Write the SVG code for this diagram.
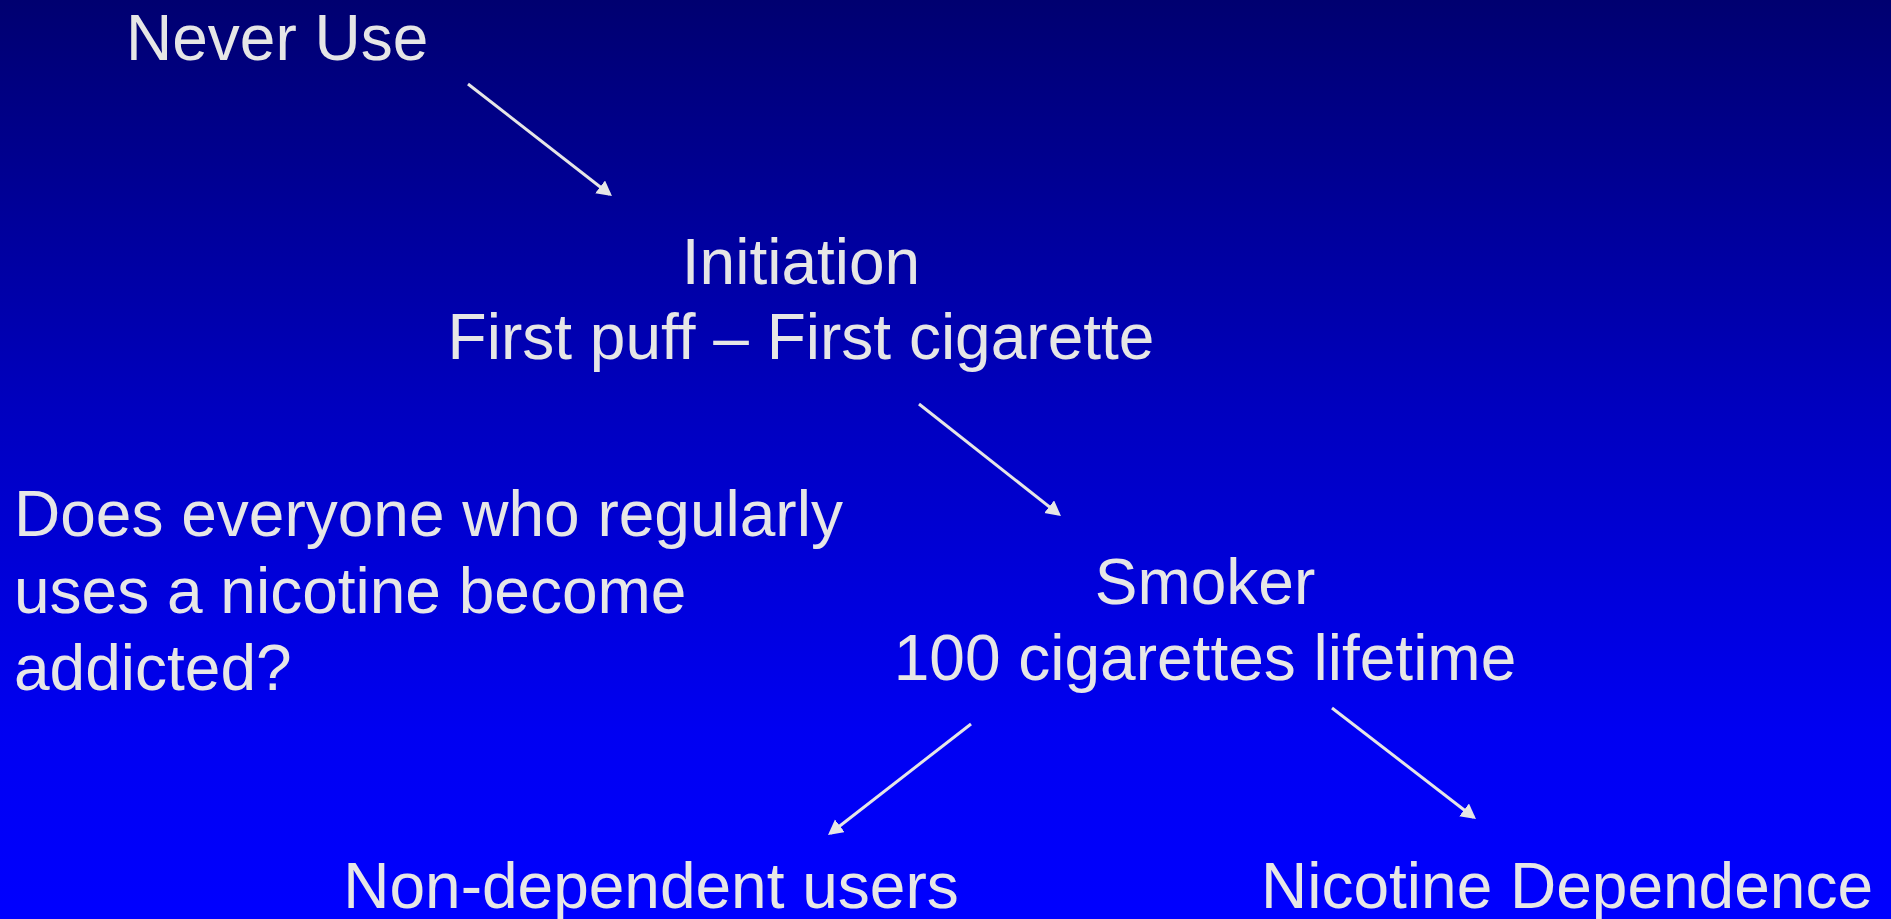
<svg xmlns="http://www.w3.org/2000/svg" width="1891" height="919" viewBox="0 0 1891 919">
  <defs>
    <linearGradient id="bg" x1="0" y1="0" x2="0" y2="1">
      <stop offset="0" stop-color="#000070"/>
      <stop offset="0.45" stop-color="#0000C0"/>
      <stop offset="0.8" stop-color="#0000F2"/>
      <stop offset="1" stop-color="#0000FF"/>
    </linearGradient>
    <marker id="ah" markerUnits="userSpaceOnUse" markerWidth="18" markerHeight="18" refX="12" refY="8" orient="auto">
      <path d="M0,0 L15,8 L0,16 z" fill="#E6E6E6"/>
    </marker>
    <style>
      .t { font-family: "Liberation Sans", Arial, sans-serif; font-size: 64px; fill: #E6E6E6; font-variant-ligatures: none; font-feature-settings: "liga" 0, "clig" 0; }
      .nl { letter-spacing: 0.01px; }
      .c { text-anchor: middle; }
      .a { stroke: #E6E6E6; stroke-width: 3; fill: none; marker-end: url(#ah); }
    </style>
  </defs>
  <rect x="0" y="0" width="1891" height="919" fill="url(#bg)"/>
  <g id="never-use">
    <text class="t" x="126" y="60">Never Use</text>
  </g>
  <g id="initiation">
    <text class="t c" x="801" y="284">Initiation</text>
    <text class="t c nl" x="801" y="359">First puff – First cigarette</text>
  </g>
  <g id="question">
    <text class="t" x="14" y="536">Does everyone who regularly</text>
    <text class="t" x="14" y="613">uses a nicotine become</text>
    <text class="t" x="14" y="690">addicted?</text>
  </g>
  <g id="smoker">
    <text class="t c" x="1205" y="604">Smoker</text>
    <text class="t c" x="1205" y="680">100 cigarettes lifetime</text>
  </g>
  <g id="non-dependent">
    <text class="t c" x="651" y="908">Non-dependent users</text>
  </g>
  <g id="dependence">
    <text class="t c" x="1567" y="908">Nicotine Dependence</text>
  </g>
  <g id="connectors">
    <line class="a" x1="468" y1="84" x2="609.6" y2="194.2"/>
    <line class="a" x1="919" y1="404" x2="1058.6" y2="514.1"/>
    <line class="a" x1="971" y1="724" x2="830.4" y2="833.2"/>
    <line class="a" x1="1332" y1="708" x2="1473.6" y2="817.2"/>
  </g>
</svg>
